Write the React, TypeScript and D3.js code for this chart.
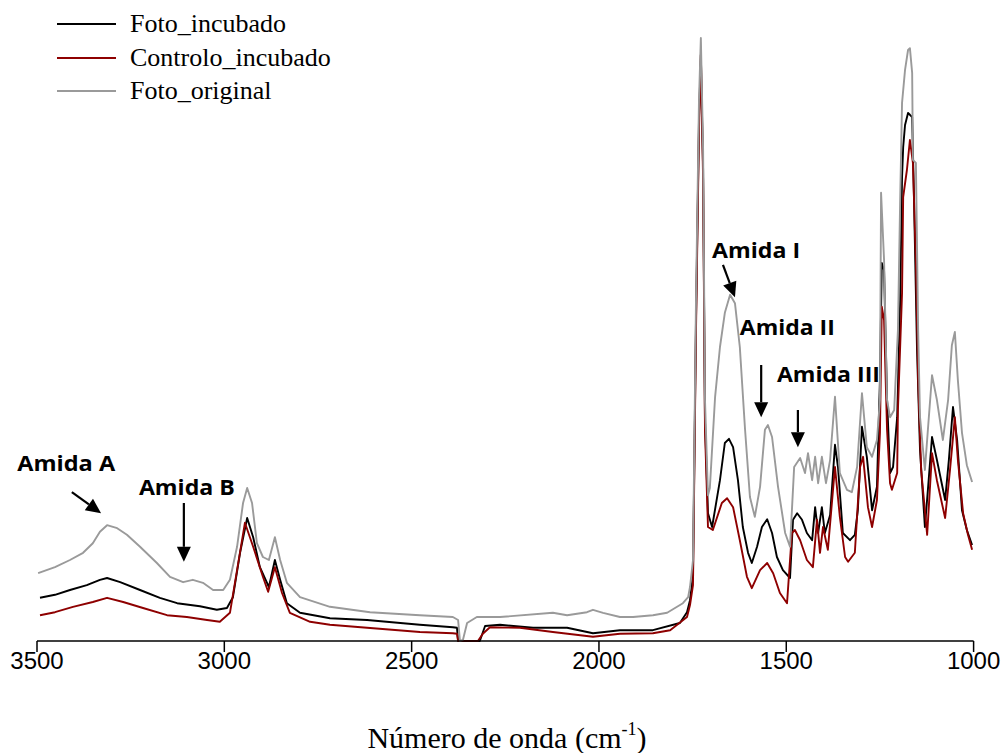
import React from 'react';
import * as d3 from 'd3';

type Pt = [number, number];

// FTIR spectra: [wavenumber (cm-1), absorbance (a.u.)]
const fotoIncubado: Pt[] = [
  [3492, 0.072], [3452, 0.077], [3412, 0.085], [3367, 0.093], [3332, 0.102], [3313, 0.105],
  [3278, 0.098], [3225, 0.085], [3172, 0.072], [3126, 0.063], [3065, 0.058], [3020, 0.052],
  [2993, 0.055], [2977, 0.073], [2958, 0.147], [2939, 0.205], [2923, 0.173], [2905, 0.123],
  [2886, 0.097], [2881, 0.09], [2865, 0.135], [2851, 0.102], [2833, 0.063], [2798, 0.047],
  [2718, 0.038], [2619, 0.035], [2478, 0.027], [2390, 0.023], [2379, 0.022], [2376, 0],
  [2363, 0], [2318, 0], [2304, 0.025], [2264, 0.027], [2176, 0.022], [2085, 0.022],
  [2016, 0.013], [1944, 0.018], [1856, 0.018], [1784, 0.03], [1765, 0.048], [1757, 0.068],
  [1749, 0.11], [1741, 0.535], [1733, 0.868], [1728, 0.977], [1722, 0.785], [1717, 0.368],
  [1709, 0.213], [1698, 0.19], [1677, 0.268], [1664, 0.33], [1653, 0.337], [1642, 0.323],
  [1629, 0.268], [1616, 0.19], [1602, 0.147], [1592, 0.13], [1578, 0.157], [1565, 0.19],
  [1551, 0.203], [1538, 0.18], [1525, 0.14], [1509, 0.118], [1490, 0.105], [1482, 0.202],
  [1471, 0.213], [1458, 0.202], [1445, 0.18], [1431, 0.168], [1423, 0.223], [1415, 0.18],
  [1405, 0.223], [1397, 0.18], [1383, 0.21], [1370, 0.327], [1362, 0.29], [1349, 0.18],
  [1330, 0.168], [1317, 0.177], [1309, 0.218], [1298, 0.357], [1285, 0.307], [1271, 0.218],
  [1258, 0.257], [1250, 0.435], [1245, 0.63], [1239, 0.618], [1231, 0.402], [1223, 0.28],
  [1215, 0.29], [1204, 0.373], [1196, 0.568], [1191, 0.773], [1188, 0.823], [1183, 0.86],
  [1175, 0.88], [1170, 0.877], [1164, 0.873], [1159, 0.735], [1151, 0.485], [1143, 0.318],
  [1130, 0.19], [1122, 0.252], [1111, 0.34], [1098, 0.302], [1076, 0.235], [1066, 0.302],
  [1055, 0.39], [1044, 0.335], [1031, 0.218], [1018, 0.185], [1004, 0.16],
];

const controloIncubado: Pt[] = [
  [3492, 0.043], [3452, 0.048], [3404, 0.057], [3351, 0.065], [3313, 0.072], [3270, 0.065],
  [3217, 0.055], [3153, 0.043], [3100, 0.04], [3046, 0.035], [3012, 0.032], [2985, 0.047],
  [2966, 0.118], [2945, 0.197], [2923, 0.157], [2897, 0.107], [2883, 0.082], [2865, 0.123],
  [2846, 0.08], [2825, 0.047], [2771, 0.032], [2718, 0.027], [2619, 0.022], [2478, 0.015],
  [2390, 0.013], [2379, 0.012], [2376, 0], [2323, 0], [2310, 0.012], [2291, 0.023],
  [2211, 0.022], [2123, 0.015], [2016, 0.007], [1944, 0.012], [1856, 0.013], [1810, 0.018],
  [1765, 0.04], [1757, 0.06], [1749, 0.093], [1741, 0.518], [1733, 0.852], [1728, 0.977],
  [1722, 0.768], [1717, 0.352], [1709, 0.19], [1696, 0.185], [1672, 0.23], [1658, 0.238],
  [1642, 0.223], [1624, 0.168], [1605, 0.107], [1592, 0.088], [1570, 0.118], [1551, 0.13],
  [1535, 0.113], [1517, 0.08], [1498, 0.063], [1485, 0.18], [1477, 0.185], [1463, 0.168],
  [1445, 0.135], [1429, 0.123], [1418, 0.202], [1410, 0.147], [1402, 0.19], [1389, 0.152],
  [1370, 0.29], [1357, 0.207], [1343, 0.14], [1335, 0.132], [1317, 0.147], [1303, 0.29],
  [1295, 0.307], [1282, 0.223], [1271, 0.19], [1258, 0.235], [1250, 0.347], [1245, 0.557],
  [1239, 0.535], [1231, 0.352], [1223, 0.263], [1218, 0.252], [1204, 0.28], [1202, 0.385],
  [1191, 0.58], [1188, 0.74], [1178, 0.785], [1170, 0.835], [1162, 0.797], [1154, 0.63],
  [1148, 0.435], [1140, 0.285], [1124, 0.177], [1111, 0.313], [1098, 0.268], [1076, 0.205],
  [1063, 0.285], [1050, 0.373], [1042, 0.302], [1028, 0.213], [1015, 0.177], [1004, 0.152],
];

const fotoOriginal: Pt[] = [
  [3497, 0.113], [3452, 0.123], [3412, 0.135], [3377, 0.147], [3351, 0.163], [3332, 0.182],
  [3313, 0.193], [3286, 0.188], [3260, 0.177], [3225, 0.157], [3180, 0.13], [3145, 0.107],
  [3110, 0.098], [3084, 0.102], [3057, 0.097], [3030, 0.085], [3003, 0.085], [2985, 0.102],
  [2966, 0.157], [2950, 0.23], [2939, 0.255], [2926, 0.23], [2913, 0.163], [2897, 0.14],
  [2881, 0.135], [2865, 0.173], [2851, 0.135], [2833, 0.097], [2798, 0.073], [2718, 0.057],
  [2611, 0.048], [2478, 0.043], [2390, 0.04], [2376, 0.035], [2371, 0], [2363, 0.002],
  [2352, 0.03], [2326, 0.04], [2264, 0.04], [2123, 0.047], [2085, 0.043], [2032, 0.048],
  [2016, 0.052], [1989, 0.047], [1944, 0.04], [1909, 0.04], [1856, 0.043], [1818, 0.047],
  [1776, 0.063], [1762, 0.073], [1757, 0.09], [1749, 0.135], [1741, 0.568], [1733, 0.902],
  [1728, 1.005], [1722, 0.818], [1717, 0.402], [1709, 0.243], [1704, 0.255], [1690, 0.407],
  [1677, 0.49], [1664, 0.547], [1650, 0.577], [1637, 0.563], [1624, 0.49], [1610, 0.352],
  [1597, 0.24], [1584, 0.207], [1570, 0.257], [1557, 0.352], [1549, 0.36], [1538, 0.34],
  [1522, 0.257], [1503, 0.18], [1490, 0.157], [1479, 0.29], [1463, 0.305], [1450, 0.28],
  [1442, 0.313], [1431, 0.268], [1423, 0.307], [1415, 0.263], [1405, 0.307], [1394, 0.263],
  [1383, 0.302], [1370, 0.407], [1357, 0.28], [1338, 0.252], [1325, 0.248], [1311, 0.29],
  [1298, 0.413], [1285, 0.323], [1271, 0.307], [1258, 0.335], [1250, 0.402], [1247, 0.747],
  [1239, 0.635], [1231, 0.402], [1223, 0.373], [1212, 0.385], [1202, 0.518], [1196, 0.735],
  [1191, 0.897], [1183, 0.952], [1175, 0.985], [1170, 0.988], [1164, 0.947], [1162, 0.802],
  [1154, 0.797], [1148, 0.518], [1143, 0.373], [1130, 0.285], [1122, 0.352], [1111, 0.443],
  [1098, 0.402], [1082, 0.335], [1068, 0.402], [1058, 0.493], [1050, 0.515], [1042, 0.435],
  [1031, 0.347], [1018, 0.293], [1004, 0.265],
];

const seriesNames = ['Foto_incubado', 'Controlo_incubado', 'Foto_original'];
const seriesColors = ['#000000', '#8e0000', '#9a9a9a'];
const seriesData = [fotoIncubado, controloIncubado, fotoOriginal];

const xTicks = [3500, 3000, 2500, 2000, 1500, 1000];

// Band labels: text anchor and arrow tail/tip, in data units
const bandLabels = [
  { label: 'Amida A', text: [3553, 0.283], tail: [3407, 0.248], tip: [3329, 0.213], len: 98 },
  { label: 'Amida B', text: [3228, 0.243], tail: [3108, 0.23], tip: [3108, 0.132], len: 96 },
  { label: 'Amida I', text: [1698, 0.638], tail: [1669, 0.627], tip: [1637, 0.573], len: 88 },
  { label: 'Amida II', text: [1624, 0.51], tail: [1567, 0.46], tip: [1567, 0.373], len: 95 },
  { label: 'Amida III', text: [1525, 0.432], tail: [1469, 0.385], tip: [1469, 0.323], len: 103 },
];

export default function App() {
  const W = 1001;
  const H = 753;
  const x = d3.scaleLinear().domain([3500, 1000]).range([37, 973.6]);
  const y = d3.scaleLinear().domain([0, 1]).range([641, 41]);
  const line = d3.line<Pt>().x((d) => x(d[0])).y((d) => y(d[1]));

  const arrow = (tail: number[], tip: number[]) => {
    const x1 = x(tail[0]), y1 = y(tail[1]);
    const x2 = x(tip[0]), y2 = y(tip[1]);
    const dx = x2 - x1, dy = y2 - y1;
    const L = Math.hypot(dx, dy);
    const ux = dx / L, uy = dy / L;
    const head = 15, half = 7;
    const bx = x2 - ux * head, by = y2 - uy * head;
    const pts = [
      [x2, y2],
      [bx - uy * half, by + ux * half],
      [bx + uy * half, by - ux * half],
    ];
    return { x1, y1, bx, by, pts: pts.map((p) => p.join(',')).join(' ') };
  };

  return (
    <svg width={W} height={H} style={{ position: 'absolute', left: 0, top: 0, background: '#fff' }}>
      <rect width={W} height={H} fill="#fff" />

      {/* spectra */}
      {seriesData.map((s, i) => (
        <path key={seriesNames[i]} d={line(s) ?? ''} fill="none" stroke={seriesColors[i]}
          strokeWidth={1.9} strokeLinejoin="round" />
      ))}

      {/* x axis */}
      <line x1={x(3500)} x2={x(1000)} y1={y(0)} y2={y(0)} stroke="#000" strokeWidth={1.5} />
      {xTicks.map((t) => (
        <g key={t}>
          <line x1={x(t)} x2={x(t)} y1={y(0)} y2={y(0) + 11} stroke="#000" strokeWidth={1.5} />
          <text x={x(t)} y={669} textAnchor="middle" fontFamily="'Liberation Sans', Arial, sans-serif"
            fontSize={24} fill="#000">{t}</text>
        </g>
      ))}
      <text x={507} y={748} textAnchor="middle" fontFamily="'Liberation Serif', 'Times New Roman', serif"
        fontSize={30} fill="#000">
        Número de onda (cm<tspan fontSize={18} dy={-13}>-1</tspan><tspan dy={13}>)</tspan>
      </text>

      {/* band labels */}
      {bandLabels.map((b) => {
        const a = arrow(b.tail, b.tip);
        return (
          <g key={b.label}>
            <text x={x(b.text[0])} y={y(b.text[1])} fontFamily="'Open Sans', sans-serif" fontWeight="bold"
              fontSize={22} textLength={b.len} lengthAdjust="spacingAndGlyphs" fill="#000">{b.label}</text>
            <line x1={a.x1} y1={a.y1} x2={a.bx} y2={a.by} stroke="#000" strokeWidth={2.2} />
            <polygon points={a.pts} fill="#000" />
          </g>
        );
      })}

      {/* legend */}
      {seriesNames.map((n, i) => {
        const ly = [24, 58, 91][i];
        return (
          <g key={n}>
            <line x1={57} x2={116} y1={ly} y2={ly} stroke={seriesColors[i]} strokeWidth={2} />
            <text x={130} y={ly + 8} fontFamily="'Liberation Serif', 'Times New Roman', serif" fontSize={26}
              fill="#000">{n}</text>
          </g>
        );
      })}
    </svg>
  );
}
